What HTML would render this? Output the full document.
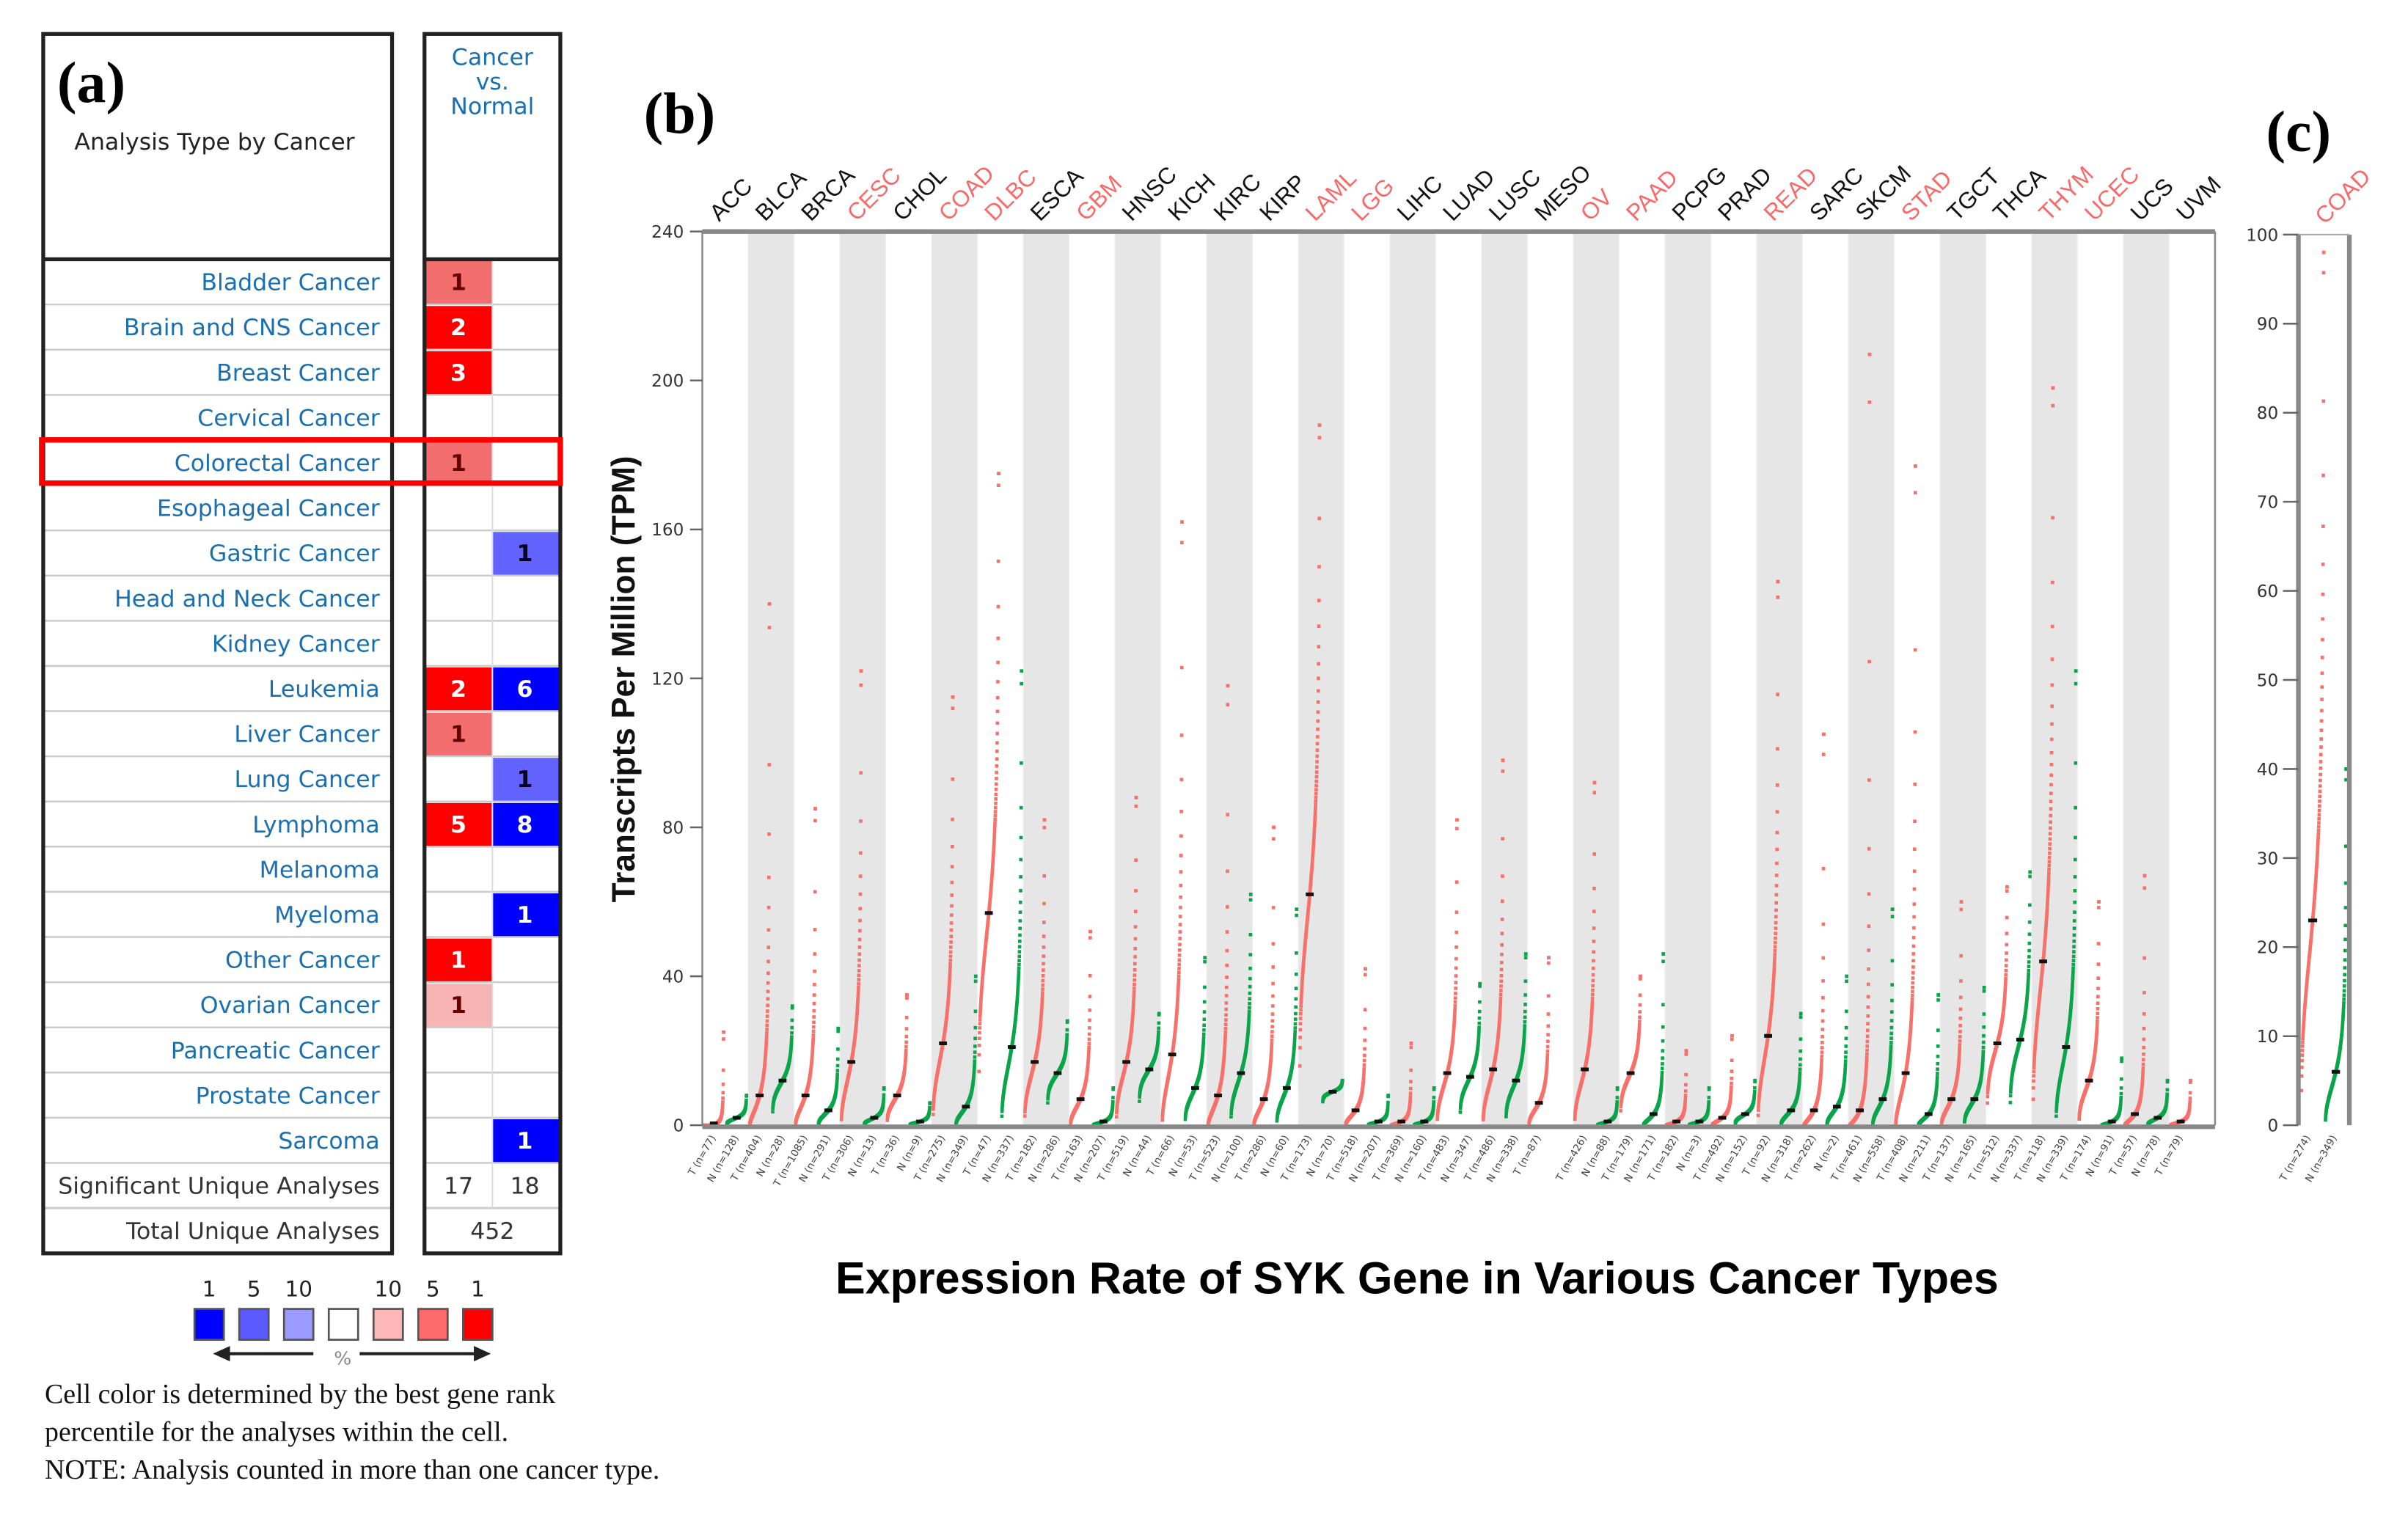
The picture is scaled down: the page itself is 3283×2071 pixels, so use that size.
<!DOCTYPE html>
<html><head><meta charset="utf-8"><style>
html,body{margin:0;padding:0;background:#fff;}
svg{display:block;}
</style></head><body>
<svg id="fig" xmlns="http://www.w3.org/2000/svg" width="3283" height="2071" viewBox="0 0 1560 984.1" preserveAspectRatio="none" font-family="'DejaVu Sans','Liberation Sans',sans-serif">
<rect width="1560" height="984.1" fill="#fff"/>
<g id="panelA"></g>
<g id="panelB"></g>
<g id="panelC"></g>
</svg>
<script>
// ---------- Panel A data ----------
const cancerNames=["Bladder Cancer","Brain and CNS Cancer","Breast Cancer","Cervical Cancer","Colorectal Cancer","Esophageal Cancer","Gastric Cancer","Head and Neck Cancer","Kidney Cancer","Leukemia","Liver Cancer","Lung Cancer","Lymphoma","Melanoma","Myeloma","Other Cancer","Ovarian Cancer","Pancreatic Cancer","Prostate Cancer","Sarcoma"];
const upCounts=[1,2,3,0,1,0,0,0,0,2,1,0,5,0,0,1,1,0,0,0];
const upShade=[2,3,3,0,2,0,0,0,0,3,2,0,3,0,0,3,1,0,0,0];
const downCounts=[0,0,0,0,0,0,1,0,0,6,0,1,8,0,1,0,0,0,0,1];
const downShade=[0,0,0,0,0,0,2,0,0,3,0,2,3,0,3,0,0,0,0,3];
// ---------- Panel B data ----------
const types=["ACC","BLCA","BRCA","CESC","CHOL","COAD","DLBC","ESCA","GBM","HNSC","KICH","KIRC","KIRP","LAML","LGG","LIHC","LUAD","LUSC","MESO","OV","PAAD","PCPG","PRAD","READ","SARC","SKCM","STAD","TGCT","THCA","THYM","UCEC","UCS","UVM"];
const highlighted=[0,0,0,1,0,1,1,0,1,0,0,0,0,1,1,0,0,0,0,1,1,0,0,1,0,0,1,0,0,1,1,0,0];
const tumorMedian=[0.5,8,8,17,8,22,57,17,7,17,19,8,7,62,4,1,14,15,6,15,14,1,2,24,4,4,14,7,22,44,12,3,1];
const tumorMax=[25,140,85,122,35,115,175,82,52,88,162,118,80,188,42,22,82,98,45,92,40,20,24,146,105,207,177,60,64,198,60,67,12];
const normalMedian=[2,12,4,2,1,5,21,14,1,15,10,14,10,9,1,1,13,12,null,1,3,1,3,4,5,7,3,7,23,21,1,2,null];
const normalMax=[8,32,26,10,6,40,122,28,10,30,45,62,58,12,8,10,38,46,null,10,46,10,12,30,40,58,35,37,68,122,18,12,null];
const tumorN=[77,404,1085,306,36,275,47,182,163,519,66,523,286,173,518,369,483,486,87,426,179,182,492,92,262,461,408,137,512,118,174,57,79];
const normalN=[128,28,291,13,9,349,337,286,207,44,53,100,60,70,207,160,347,338,0,88,171,3,152,318,2,558,211,165,337,339,91,78,0];
const yTicksB=[0,40,80,120,160,200,240];
// ---------- Panel C data ----------
const cTumorMedian=23, cTumorMax=98, cNormalMedian=6, cNormalMax=40;
const yTicksC=[0,10,20,30,40,50,60,70,80,90,100];

const NS="http://www.w3.org/2000/svg";
function el(tag,attrs,parent,text){const e=document.createElementNS(NS,tag);for(const k in attrs)e.setAttribute(k,attrs[k]);if(text!==undefined)e.textContent=text;parent.appendChild(e);return e;}

// ================= Panel A =================
const A=document.getElementById('panelA');
const redC=["#fff","#f8b4b4","#f26d6d","#ff0000"], blueC=["#fff","#a0a0ff","#6262ff","#0000ff"];
const rowTop=168,rowH=29.27;
let t;
t=el('text',{x:37,y:66,'font-family':"'Liberation Serif',serif",'font-size':38,'font-weight':'bold',fill:'#000'},A,'(a)');

t=el('text',{x:139,y:97,'text-anchor':'middle','font-size':15,fill:'#222'},A,'Analysis Type by Cancer');

['Cancer','vs.','Normal'].forEach((s,i)=>{const h=el('text',{x:319,y:42+i*16,'text-anchor':'middle','font-size':15,fill:'#1a6fb0'},A,s);
});
cancerNames.forEach((n,i)=>{
  const y=rowTop+i*rowH;
  el('line',{x1:28,x2:254,y1:y,y2:y,stroke:'#ccc','stroke-width':1.2},A);
  el('line',{x1:275,x2:363,y1:y,y2:y,stroke:'#ccc','stroke-width':1.2},A);
  const r=el('rect',{x:276,y:y+1,width:43,height:rowH-1,fill:redC[upShade[i]]},A);
  
  const b=el('rect',{x:319,y:y+1,width:43,height:rowH-1,fill:blueC[downShade[i]]},A);
  
  const lab=el('text',{x:246,y:y+20,'text-anchor':'end','font-size':15,fill:'#1a6fb0'},A,n);
  
  if(upCounts[i]){const u=el('text',{x:297,y:y+20,'text-anchor':'middle','font-size':15,'font-weight':'bold',fill:upShade[i]==3?'#fff':'#600'},A,upCounts[i]);
    }
  if(downCounts[i]){const d=el('text',{x:340,y:y+20,'text-anchor':'middle','font-size':15,'font-weight':'bold',fill:downShade[i]==3?'#fff':'#002'},A,downCounts[i]);
    }
});
const sumY=rowTop+20*rowH;
el('line',{x1:28,x2:254,y1:sumY,y2:sumY,stroke:'#ccc','stroke-width':1.2},A);
el('line',{x1:275,x2:363,y1:sumY,y2:sumY,stroke:'#ccc','stroke-width':1.2},A);
el('line',{x1:28,x2:254,y1:sumY+rowH,y2:sumY+rowH,stroke:'#ccc','stroke-width':1.5},A);
el('line',{x1:275,x2:363,y1:sumY+rowH,y2:sumY+rowH,stroke:'#ccc','stroke-width':1.5},A);
t=el('text',{x:246,y:sumY+20,'text-anchor':'end','font-size':15,fill:'#333'},A,'Significant Unique Analyses');
t=el('text',{x:297,y:sumY+20,'text-anchor':'middle','font-size':15,fill:'#333'},A,'17');
t=el('text',{x:340,y:sumY+20,'text-anchor':'middle','font-size':15,fill:'#333'},A,'18');
el('line',{x1:319,x2:319,y1:rowTop,y2:sumY+rowH,stroke:'#ddd','stroke-width':1},A);
t=el('text',{x:246,y:sumY+rowH+20,'text-anchor':'end','font-size':15,fill:'#333'},A,'Total Unique Analyses');
t=el('text',{x:319,y:sumY+rowH+20,'text-anchor':'middle','font-size':15,fill:'#333'},A,'452');
el('rect',{x:28,y:22,width:226,height:790,fill:'none',stroke:'#222','stroke-width':2.5},A);
el('rect',{x:275,y:22,width:88,height:790,fill:'none',stroke:'#222','stroke-width':2.5},A);
el('line',{x1:28,x2:254,y1:168,y2:168,stroke:'#222','stroke-width':2.5},A);
el('line',{x1:275,x2:363,y1:168,y2:168,stroke:'#222','stroke-width':2.5},A);
const hl=el('rect',{x:27,y:285,width:336,height:28,fill:'none',stroke:'#f00','stroke-width':3.5},A);

const legCols=["#0000ff","#5a5aff","#9a9aff","#fff","#ffb8b8","#ff6a6a","#ff0000"];
const legX=[126,155,184,213,242,271,300];
const legLab=["1","5","10","","10","5","1"];
legCols.forEach((c,i)=>{const r=el('rect',{x:legX[i],y:848,width:19,height:20,fill:c,stroke:'#555','stroke-width':1.3},A);
 
 if(legLab[i]){const l=el('text',{x:legX[i]+9.5,y:840,'text-anchor':'middle','font-size':14,fill:'#222'},A,legLab[i]);}});
el('line',{x1:148,x2:203,y1:877,y2:877,stroke:'#222','stroke-width':2},A);
el('polygon',{points:'138,877 149,872 149,882',fill:'#222'},A);
el('line',{x1:233,x2:308,y1:877,y2:877,stroke:'#222','stroke-width':2},A);
el('polygon',{points:'318,877 307,872 307,882',fill:'#222'},A);
t=el('text',{x:222,y:884,'text-anchor':'middle','font-size':12,fill:'#888'},A,'%');
['Cell color is determined by the best gene rank','percentile for the analyses within the cell.','NOTE: Analysis counted in more than one cancer type.'].forEach((s,i)=>{
 const n=el('text',{x:29,y:909+i*24.5,'font-family':"'Liberation Serif',serif",'font-size':18,fill:'#111'},A,s);});

// ================= Panel B =================
const B=document.getElementById('panelB');
const bx0=455,bx1=1435,by0=729,by1=150;
const yB=v=>by0-(v/240)*(by0-by1);
const bw=(bx1-bx0)/types.length;
const xB=i=>bx0+i*bw;
function quant(med,max,q){const z=Math.log(q/(1-q))*0.6;const s=Math.log(Math.max(max,med*1.2)/Math.max(med,0.3))/2.76;return Math.max(0,Math.max(med,0.3)*Math.exp(s*z)-(med<1?0.3:0));}
types.forEach((ty,i)=>{
  if(i%2==1){const g=el('rect',{x:xB(i),y:by1,width:bw,height:by0-by1,fill:'#e6e6e6'},B);}
});
for(let i=0;i<=types.length;i++) el('line',{x1:xB(i),x2:xB(i),y1:by1,y2:by0,stroke:'#f0f0f0','stroke-width':0.6},B);
function drawGroup(parent,x0,x1,med,max,color,yF,nm){
  const g=el('g',{},parent);
  
  
  const N=140;
  for(let k=0;k<N;k++){const q=(k+0.5)/N;const v=quant(med,max,q);
    el('rect',{x:x0+(x1-x0)*q-1.1,y:yF(Math.min(v,max))-1.1,width:2.2,height:2.2,fill:color},g);}
  el('rect',{x:x0+(x1-x0)*0.992-1.1,y:yF(max)-1.1,width:2.2,height:2.2,fill:color},g);
  const m=el('line',{x1:x0+(x1-x0)*0.3,x2:x0+(x1-x0)*0.7,y1:yF(med),y2:yF(med),stroke:'#111','stroke-width':2.4},g);
  
  
}
types.forEach((ty,i)=>{
  const x=xB(i);
  drawGroup(B,x+1,x+bw/2-1,tumorMedian[i],tumorMax[i],'#f8706a',yB,'tumor-'+ty);
  if(normalMedian[i]!==null) drawGroup(B,x+bw/2+1,x+bw-1,normalMedian[i],normalMax[i],'#0aa54a',yB,'normal-'+ty);
  const lab=el('text',{transform:`translate(${x+bw/2-4},${by1-6}) rotate(-45)`,'font-size':15,'font-family':"'Liberation Sans',sans-serif",fill:highlighted[i]?'#f86a6a':'#111'},B,ty);
  
  
  const tl=el('text',{transform:`translate(${x+bw*0.3},${by0+8}) rotate(-60)`,'font-size':6.5,'text-anchor':'end',fill:'#444'},B,`T (n=${tumorN[i]})`);
  
  
  if(normalMedian[i]!==null){const nl=el('text',{transform:`translate(${x+bw*0.8},${by0+8}) rotate(-60)`,'font-size':6.5,'text-anchor':'end',fill:'#444'},B,`N (n=${normalN[i]})`);
  
  }
});
el('line',{x1:bx0,x2:bx1,y1:by1,y2:by1,stroke:'#888','stroke-width':3},B);
el('line',{x1:bx0,x2:bx1,y1:by0+1,y2:by0+1,stroke:'#888','stroke-width':3},B);
el('line',{x1:bx0,x2:bx0,y1:by1,y2:by0,stroke:'#888','stroke-width':1.2},B);
el('line',{x1:bx1,x2:bx1,y1:by1,y2:by0,stroke:'#888','stroke-width':1.2},B);
yTicksB.forEach(v=>{el('line',{x1:bx0-8,x2:bx0,y1:yB(v),y2:yB(v),stroke:'#666','stroke-width':1.2},B);
 const tt=el('text',{x:bx0-12,y:yB(v)+4,'text-anchor':'end','font-size':11,fill:'#333'},B,v);
 
 });
t=el('text',{transform:'translate(411,440) rotate(-90)','text-anchor':'middle','font-size':21,'font-weight':'bold','font-family':"'Liberation Sans',sans-serif",fill:'#111'},B,'Transcripts Per Million (TPM)');

t=el('text',{x:417,y:86,'font-family':"'Liberation Serif',serif",'font-size':38,'font-weight':'bold',fill:'#000'},B,'(b)');

t=el('text',{x:918,y:838,'text-anchor':'middle','font-family':"'Liberation Sans',sans-serif",'font-size':29,'font-weight':'bold',fill:'#000'},B,'Expression Rate of SYK Gene in Various Cancer Types');


// ================= Panel C =================
const C=document.getElementById('panelC');
const cx0=1489,cx1=1522,cy0=729,cy1=152;
const yC=v=>cy0-(v/100)*(cy0-cy1);
drawGroup(C,cx0+2,(cx0+cx1)/2,cTumorMedian,cTumorMax,'#f8706a',yC,'coad-tumor');
drawGroup(C,(cx0+cx1)/2+1,cx1-2,cNormalMedian,cNormalMax,'#0aa54a',yC,'coad-normal');
el('line',{x1:cx0,x2:cx0,y1:cy1,y2:cy0,stroke:'#888','stroke-width':3},C);
el('line',{x1:cx1,x2:cx1,y1:cy1,y2:cy0,stroke:'#888','stroke-width':3},C);
el('line',{x1:cx0,x2:cx1,y1:cy1,y2:cy1,stroke:'#aaa','stroke-width':1},C);
yTicksC.forEach(v=>{el('line',{x1:cx0-10,x2:cx0,y1:yC(v),y2:yC(v),stroke:'#666','stroke-width':1.2},C);
 const tt=el('text',{x:cx0-13,y:yC(v)+4,'text-anchor':'end','font-size':11,fill:'#333'},C,v);
 
 });
t=el('text',{transform:`translate(${cx0+17},${cy1-6}) rotate(-45)`,'font-size':15,'font-family':"'Liberation Sans',sans-serif",fill:'#f86a6a'},C,'COAD');

t=el('text',{transform:`translate(${cx0+8},${cy0+8}) rotate(-60)`,'font-size':6.5,'text-anchor':'end',fill:'#444'},C,'T (n=274)');

t=el('text',{transform:`translate(${cx0+25},${cy0+8}) rotate(-60)`,'font-size':6.5,'text-anchor':'end',fill:'#444'},C,'N (n=349)');

t=el('text',{x:1468,y:98,'font-family':"'Liberation Serif',serif",'font-size':38,'font-weight':'bold',fill:'#000'},C,'(c)');

</script>
</body></html>
